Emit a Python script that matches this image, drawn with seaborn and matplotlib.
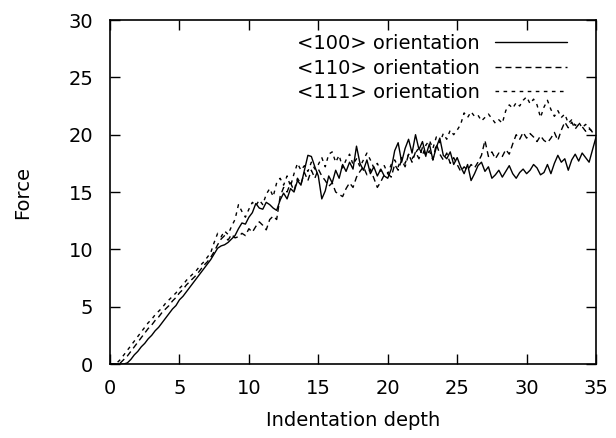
import numpy as np
import pandas as pd
import matplotlib
matplotlib.use("Agg")
import matplotlib.pyplot as plt
import seaborn as sns

# Profundidad de indentacion (muestreo cada 0.25)
depth = np.arange(0, 35.01, 0.25)

# Fuerza, una fila por unidad de profundidad
force_100 = [
    0, 0, 0, 0,
    0, 0.1, 0.4, 0.8,
    1.1, 1.5, 1.8, 2.2,
    2.5, 2.9, 3.2, 3.6,
    4.0, 4.4, 4.8, 5.1,
    5.6, 5.9, 6.3, 6.7,
    7.1, 7.5, 7.9, 8.3,
    8.7, 9.1, 9.6, 10.1,
    10.3, 10.4, 10.6, 10.9,
    11.2, 11.8, 12.3, 12.2,
    12.8, 13.2, 14.0, 13.6,
    13.5, 14.1, 13.9, 13.6,
    13.4, 14.3, 14.9, 14.4,
    15.3, 15.0, 16.0, 15.6,
    16.9, 18.2, 18.1, 17.2,
    16.4, 14.4, 15.1, 16.4,
    15.8, 16.9, 16.2, 17.4,
    16.8, 17.6, 17.0, 19.0,
    17.5, 16.9, 17.8, 16.6,
    17.2, 16.4, 17.0, 16.4,
    16.2, 17.0, 18.6, 19.3,
    17.6, 18.8, 19.6, 18.4,
    20.0, 18.7, 19.4, 18.2,
    19.2, 17.8, 18.9, 19.7,
    18.2, 17.9, 18.5, 17.4,
    18.0, 17.2, 16.6, 17.4,
    16.0, 16.6, 17.3, 17.6,
    16.8, 17.2, 16.2, 16.5,
    16.9, 16.3, 16.8, 17.3,
    16.6, 16.2, 16.7, 17.0,
    16.6, 16.9, 17.4, 17.1,
    16.5, 16.7, 17.4, 16.6,
    17.5, 18.2, 17.6, 17.9,
    16.9, 17.8, 18.3, 17.7,
    18.4, 18.0, 17.6, 18.7,
    19.8,
]

force_110 = [
    0, 0, 0, 0.1,
    0.4, 0.7, 1.1, 1.5,
    1.9, 2.3, 2.7, 3.1,
    3.4, 3.8, 4.1, 4.5,
    4.8, 5.1, 5.5, 5.8,
    6.2, 6.5, 6.9, 7.2,
    7.5, 7.8, 8.2, 8.6,
    8.9, 9.3, 9.8, 10.4,
    10.9, 11.2, 10.8, 11.3,
    11.0, 11.1, 11.4, 11.2,
    11.8, 11.5, 12.0, 12.4,
    12.1, 11.7, 12.6, 12.9,
    12.6, 14.6, 15.4, 15.0,
    15.8, 15.1, 16.2, 15.7,
    16.7, 16.0, 16.9, 16.2,
    17.0, 16.4, 16.0, 15.5,
    15.8, 15.0, 14.8, 14.6,
    15.3, 15.8, 15.4, 16.3,
    16.8, 17.2, 16.5, 17.0,
    16.2, 15.4, 15.9, 16.5,
    16.6, 16.3, 17.4, 16.9,
    17.8, 17.2, 18.3, 17.6,
    18.5, 17.9, 18.9, 18.1,
    18.6, 17.8, 19.2, 18.3,
    17.8, 18.4, 17.5, 18.0,
    17.4, 16.8, 17.2, 16.9,
    17.4, 17.1, 17.6, 18.2,
    19.5, 18.1, 18.5, 17.9,
    18.4, 18.1, 18.7, 18.3,
    19.2, 20.0, 19.6, 20.2,
    19.7, 20.1, 19.8, 19.4,
    19.9, 19.5, 19.3, 19.7,
    20.2, 19.5, 20.4, 21.1,
    20.6, 21.1, 20.5, 20.9,
    20.7, 20.3, 20.6, 20.2,
    20.1,
]

force_111 = [
    0, 0, 0.1, 0.4,
    0.8, 1.2, 1.6, 2.0,
    2.4, 2.8, 3.2, 3.6,
    3.9, 4.3, 4.6, 4.9,
    5.3, 5.6, 5.9, 6.2,
    6.6, 6.9, 7.3, 7.6,
    7.9, 8.2, 8.6, 8.9,
    9.3, 9.7, 10.6, 11.4,
    11.1, 11.6, 11.3, 12.0,
    12.6, 13.9, 13.3, 12.8,
    13.5, 14.1, 13.8, 14.3,
    13.9, 14.8, 15.3, 14.6,
    15.8, 16.2, 15.6, 16.4,
    15.5, 16.6, 17.5, 16.9,
    17.3, 16.8, 17.6, 17.0,
    17.4, 18.0, 17.2, 18.3,
    18.5, 17.6, 18.2, 17.1,
    17.8, 18.3, 17.4, 17.9,
    17.2, 17.8, 18.4, 17.8,
    17.1, 17.5, 16.8, 17.3,
    16.6, 17.4, 17.8, 17.2,
    18.0, 17.5, 18.3, 17.9,
    18.4, 18.9, 18.2, 19.1,
    19.5, 18.8, 19.8, 19.3,
    20.1, 19.6, 20.4, 20.0,
    20.4, 20.9, 21.9, 21.5,
    22.0, 21.6, 21.7, 21.2,
    21.5, 21.8, 21.4, 21.0,
    21.3, 21.0, 22.1, 22.6,
    22.3, 22.8, 22.5, 23.0,
    23.3, 22.7, 23.1, 22.6,
    21.5, 22.4, 23.0, 22.2,
    21.6, 22.1, 21.5, 21.8,
    21.0, 21.3, 20.8, 21.1,
    20.6, 20.9, 20.5, 20.3,
    20.2,
]

labels = ["<100> orientation", "<110> orientation", "<111> orientation"]

df = pd.concat([
    pd.DataFrame({"depth": depth, "force": f, "orientation": lab})
    for f, lab in zip([force_100, force_110, force_111], labels)
])

sns.set_style("ticks", {"xtick.direction": "in", "ytick.direction": "in"})
plt.rcParams["font.family"] = ["DejaVu Sans"]
plt.rcParams.update({"text.color": "black", "axes.labelcolor": "black",
                     "xtick.color": "black", "ytick.color": "black",
                     "axes.edgecolor": "black"})

fig = plt.figure(figsize=(6.16, 4.38), dpi=100)
ax = fig.add_axes([0.1786, 0.1689, 0.789, 0.7854])

estilos = {labels[0]: "", labels[1]: (4.3, 2.9), labels[2]: (2.6, 3.2)}
sns.lineplot(data=df, x="depth", y="force", style="orientation",
             style_order=labels, dashes=estilos, color="black",
             linewidth=1, errorbar=None, ax=ax)

ax.set_xlim(0, 35)
ax.set_ylim(0, 30)
ax.set_xticks(range(0, 36, 5))
ax.set_yticks(range(0, 31, 5))
ax.tick_params(axis="both", which="both", direction="in", top=True, right=True,
               length=7, width=1, labelsize=14)
ax.tick_params(axis="y", pad=12)
ax.tick_params(axis="x", pad=11)
for sp in ax.spines.values():
    sp.set_linewidth(1.2)

ax.set_xlabel("Indentation depth", fontsize=14, labelpad=9)
ax.set_ylabel("Force", fontsize=14, labelpad=26)

handles, labs = ax.get_legend_handles_labels()
ax.legend(handles, labs, loc="upper right", bbox_to_anchor=(0.940, 0.959),
          frameon=False, markerfirst=False, fontsize=14, handlelength=3.7,
          handletextpad=0.8, labelspacing=0.28, borderpad=0, borderaxespad=0)

fig.savefig("out.png", dpi=100)
